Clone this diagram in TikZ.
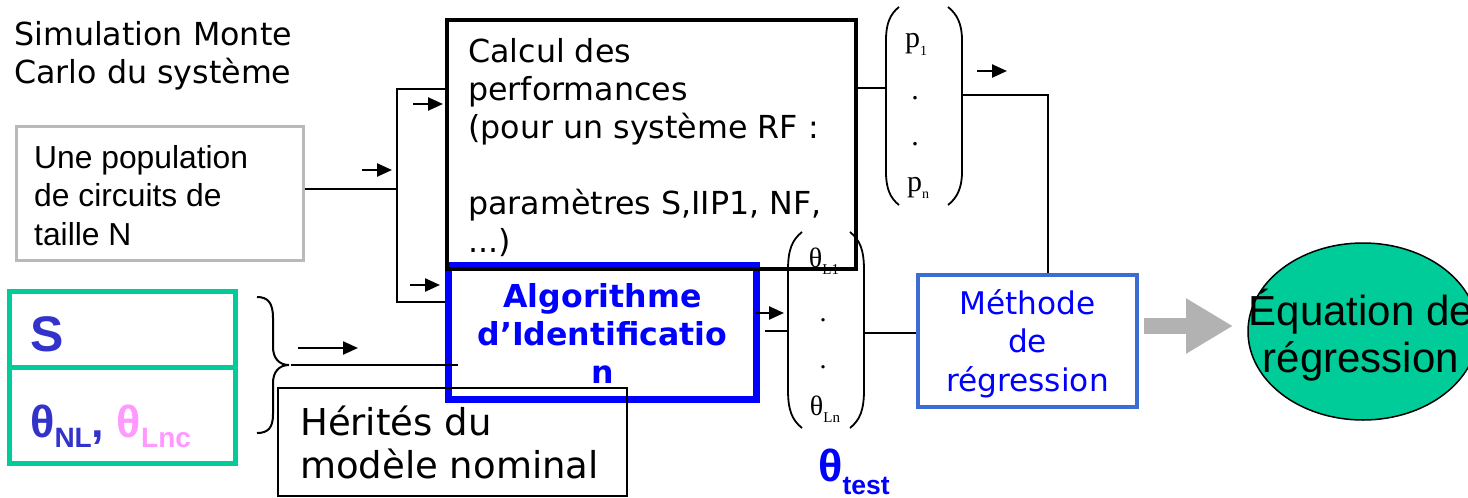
\documentclass[tikz,border=0pt]{standalone}
\usepackage{fontspec}
\setmainfont{DejaVu Sans}
\newfontfamily\arialf{Liberation Sans}
\newfontfamily\timesf{Liberation Serif}
\usetikzlibrary{arrows.meta,shapes.geometric}
\definecolor{popgray}{RGB}{185,185,185}
\definecolor{sgreen}{RGB}{0,204,153}
\definecolor{sblue}{RGB}{51,51,204}
\definecolor{spink}{RGB}{255,153,255}
\definecolor{pblue}{RGB}{0,0,255}
\definecolor{mblue}{RGB}{60,110,210}
\definecolor{agray}{RGB}{178,178,178}
\newcommand{\fsz}[2]{\fontsize{#1pt}{#2pt}\selectfont}
\begin{document}
\begin{tikzpicture}[x=1pt,y=-1pt,
  txt/.style={inner sep=0pt, anchor=base west},
  ctxt/.style={inner sep=0pt, anchor=base},
  frame/.style={rectangle, inner sep=0pt},
  wire/.style={line width=1.6pt},
  tick/.style={line width=2.4pt, -{Triangle[length=15pt,width=13pt]}},
  paren/.style={line width=1.8pt}]
\useasboundingbox (0,0) rectangle (1468,498);

% title
\node[txt] (title) at (14,45) {\parbox[t]{400pt}{\raggedright\fsz{31.7}{38}Simulation Monte\\Carlo du système}};

% population box
\node[frame, draw=popgray, line width=3pt, minimum width=287pt, minimum height=134pt] (pop) at (160,193.5) {};
\node[txt] (poptxt) at (34,168) {\parbox[t]{280pt}{\raggedright\arialf\fsz{31.8}{38.5}Une population\\de circuits de\\taille N}};

% green boxes
\node[frame, draw=sgreen, line width=5pt, minimum width=226pt, minimum height=75.5pt] (gS) at (122.5,329.25) {};
\node[frame, draw=sgreen, line width=5pt, minimum width=226pt, minimum height=96.5pt] (gT) at (122.5,415.25) {};
\node[txt] (Stxt) at (30,351) {\arialf\bfseries\color{sblue}\fsz{50}{50}S};
\node[txt] (thtxt) at (30,437) {\arialf\bfseries\fsz{45}{45}\textcolor{sblue}{θ\raisebox{-10pt}{\fsz{28}{28}NL},} \textcolor{spink}{θ\raisebox{-10pt}{\fsz{28}{28}Lnc}}};

% brace
\draw[line width=2pt] (257,297) .. controls (268,297) and (273,303) .. (273,318) -- (273,347)
  .. controls (273,358) and (279,365) .. (289,365)
  .. controls (279,365) and (273,372) .. (273,383) -- (273,414)
  .. controls (273,428) and (268,433) .. (257,433);
\coordinate (btip) at (291,365);

% algorithm box
\node[frame, draw=pblue, line width=7pt, minimum width=308pt, minimum height=134pt] (alg) at (602.5,332.5) {};
\node[ctxt, text=pblue] (algtxt) at (602.5,307) {\parbox[t]{300pt}{\centering\bfseries\fsz{31.6}{38}Algorithme\\d’Identificatio\\n}};

% calc box placement (drawn later, on top)
\node[frame, minimum width=409pt, minimum height=249pt] (calc) at (651.5,144.5) {};

% theta matrix
\node[frame, minimum width=77pt, minimum height=196pt] (thM) at (826.5,330) {};
\draw[paren] (802,232) .. controls (792,240) and (788,250) .. (788,270) -- (788,390) .. controls (788,410) and (792,420) .. (802,428);
\draw[paren] (850,232) .. controls (860,240) and (864,250) .. (864,270) -- (864,390) .. controls (864,410) and (860,420) .. (850,428);
\node[ctxt] (th1) at (824,267) {\timesf\fsz{28}{28}θ\raisebox{-7pt}{\fsz{15}{15}L1}};
\node[ctxt] (thd1) at (823,321) {\timesf\fsz{28}{28}.};
\node[ctxt] (thd2) at (823,368) {\timesf\fsz{28}{28}.};
\node[ctxt] (thn) at (825,415) {\timesf\fsz{28}{28}θ\raisebox{-7pt}{\fsz{15}{15}Ln}};

% p matrix
\node[frame, minimum width=76pt, minimum height=198pt] (pM) at (924,106) {};
\draw[paren] (899,7) .. controls (890,14) and (886,24) .. (886,40) -- (886,172) .. controls (886,188) and (890,198) .. (899,205);
\draw[paren] (948,7) .. controls (957,14) and (962,24) .. (962,40) -- (962,172) .. controls (962,188) and (957,198) .. (948,205);
\node[ctxt] (p1) at (916,47) {\timesf\fsz{30}{30}p\raisebox{-8pt}{\fsz{14}{14}1}};
\node[ctxt] (pd1) at (915,99) {\timesf\fsz{30}{30}.};
\node[ctxt] (pd2) at (915,145) {\timesf\fsz{30}{30}.};
\node[ctxt] (pn) at (918,191) {\timesf\fsz{30}{30}p\raisebox{-7pt}{\fsz{14}{14}n}};

% regression method box
\node[frame, draw=mblue, line width=4pt, minimum width=219pt, minimum height=132pt] (meth) at (1027.5,341) {};
\node[ctxt, text=pblue] (methtxt) at (1027.5,314) {\parbox[t]{215pt}{\centering\fsz{31.2}{38.5}Méthode\\de\\régression}};

% ellipse
\node[ellipse, draw, fill=sgreen, line width=1.5pt, minimum width=230pt, minimum height=177pt, inner sep=0pt] (eq) at (1363,331.5) {};
\node[ctxt] (eqtxt) at (1361,325) {\parbox[t]{300pt}{\centering\arialf\fsz{42}{47}Équation de\\régression}};

% theta test
\node[txt, text=pblue] (thtest) at (818,481) {\arialf\bfseries\fsz{45}{45}θ\raisebox{-13pt}{\fsz{26.5}{26.5}test}};

% wires
\coordinate (jt) at (397,89);
\coordinate (jb) at (397,302);
\coordinate (jm) at (397,189);
\draw[wire] (pop.east |- jm) -- (jm);
\draw[wire] (calc.west |- jt) -- (jt) -- (jb) -- (alg.west |- jb);
\coordinate (algin) at (458,365);
\draw[wire] (btip) -- (algin);
\coordinate (algout) at (765,331);
\draw[wire] (algout) -- (thM.west |- algout);
\coordinate (tho) at (866,333);
\draw[wire] (thM.east |- tho) -- (meth.west |- tho);
\coordinate (cpo) at (856,88);
\draw[wire] (calc.east |- cpo) -- (pM.west |- cpo);
\coordinate (pc) at (1048,95);
\draw[wire] (pM.east |- pc) -- (pc) -- (pc |- meth.north);

% calc box outline (on top)
\draw[line width=4pt] (calc.north west) rectangle (calc.south east);
\node[txt] (calctxt) at (468,62) {\parbox[t]{400pt}{\raggedright\fsz{31.7}{38}Calcul des\\performances\\(pour un système RF :\\\mbox{}\\paramètres S,IIP1, NF,\\...)}};

% herites box
\node[frame, draw, line width=2pt, minimum width=349pt, minimum height=108pt] (her) at (452.5,442) {};
\node[txt] (hertxt) at (300,435) {\parbox[t]{340pt}{\raggedright\fsz{37}{43}Hérités du\\modèle nominal}};

% gray arrow
\coordinate (gas) at (1144,326);
\coordinate (gae) at (1233,326);
\draw[agray, line width=16pt, -{Triangle[length=47pt,width=52pt]}] (gas) -- (gae);

% small arrows
\coordinate (t1a) at (413,104); \coordinate (t1b) at (443,104);
\coordinate (t2a) at (362,170); \coordinate (t2b) at (392,170);
\coordinate (t3a) at (410,285); \coordinate (t3b) at (440,285);
\coordinate (t4a) at (298,348); \coordinate (t4b) at (358,348);
\coordinate (t5a) at (755,313); \coordinate (t5b) at (784,313);
\coordinate (t6a) at (977,71); \coordinate (t6b) at (1007,71);
\draw[tick] (t1a) -- (t1b);
\draw[tick] (t2a) -- (t2b);
\draw[tick] (t3a) -- (t3b);
\draw[tick] (t4a) -- (t4b);
\draw[tick] (t5a) -- (t5b);
\draw[tick] (t6a) -- (t6b);
\end{tikzpicture}
\end{document}
